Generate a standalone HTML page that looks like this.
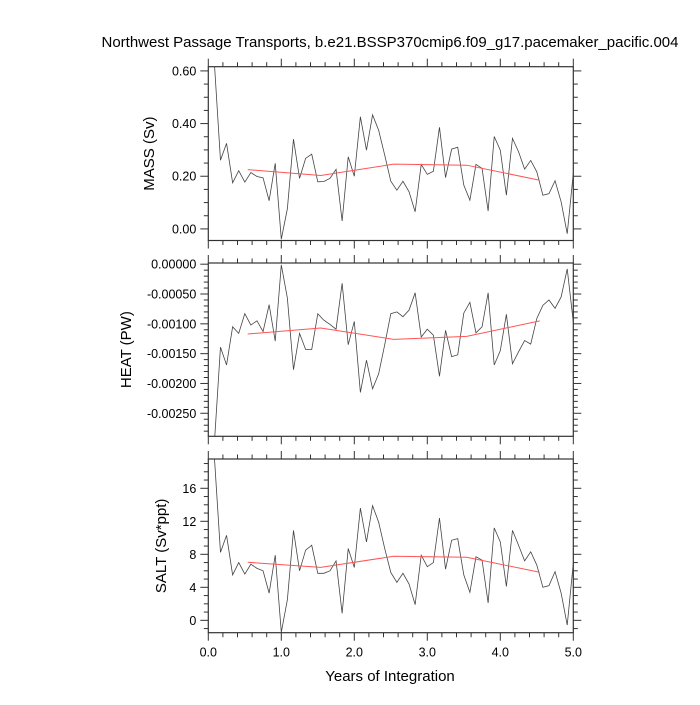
<!DOCTYPE html>
<html><head><meta charset="utf-8"><style>
body{margin:0;background:#fff}
svg text{font-family:"Liberation Sans",sans-serif;fill:#000}
</style></head><body>
<svg id="c" width="700" height="700" xmlns="http://www.w3.org/2000/svg">
<text x="390" y="47" font-size="15" text-anchor="middle">Northwest Passage Transports, b.e21.BSSP370cmip6.f09_g17.pacemaker_pacific.004</text>
<text x="390" y="681" font-size="15" text-anchor="middle">Years of Integration</text>
</svg>
<script>
const massVals=[0.63,0.261,0.325,0.175,0.221,0.178,0.214,0.199,0.194,0.107,0.249,-0.039,0.077,0.341,0.192,0.268,0.284,0.179,0.180,0.192,0.226,0.030,0.274,0.200,0.426,0.299,0.433,0.375,0.280,0.181,0.147,0.181,0.141,0.065,0.245,0.207,0.219,0.386,0.195,0.303,0.310,0.166,0.109,0.245,0.230,0.068,0.351,0.299,0.128,0.344,0.293,0.227,0.260,0.217,0.128,0.134,0.183,0.103,-0.018,0.211];
const heatVals=[-0.0030,-0.00139,-0.00169,-0.00105,-0.00116,-0.00083,-0.00102,-0.00095,-0.00113,-0.00068,-0.00129,-0.00001,-0.00057,-0.00177,-0.00116,-0.00143,-0.00143,-0.00083,-0.00094,-0.00101,-0.00109,-0.00032,-0.00135,-0.00096,-0.00215,-0.00161,-0.00209,-0.00184,-0.00135,-0.00083,-0.00080,-0.00088,-0.00077,-0.00048,-0.00122,-0.00109,-0.00119,-0.00188,-0.00111,-0.00155,-0.00152,-0.00082,-0.00064,-0.00115,-0.00105,-0.00048,-0.00169,-0.00145,-0.00084,-0.00167,-0.00147,-0.00128,-0.00134,-0.00091,-0.00069,-0.00060,-0.00074,-0.00055,-0.00008,-0.00097];
const saltVals=[19.8,8.24,10.3,5.5,7.0,5.6,6.8,6.3,6.0,3.3,7.9,-1.45,2.5,10.9,6.0,8.5,9.1,5.7,5.7,6.0,7.2,0.85,8.7,6.4,13.6,9.5,13.9,11.9,8.7,5.8,4.6,5.7,4.4,1.9,7.9,6.5,7.0,12.4,6.2,9.7,9.9,5.5,3.4,7.7,7.3,2.1,11.2,9.5,4.1,10.9,9.1,7.2,8.3,6.7,4.0,4.2,5.9,3.3,-0.57,6.9];
const meanYears=[0.54,1.54,2.54,3.54,4.54];
const massMean=[0.225,0.203,0.246,0.242,0.185];
const heatMean=[-0.00117,-0.00107,-0.00126,-0.00121,-0.00095];
const saltMean=[7.03,6.42,7.76,7.64,5.82];
const xTickLabels=["0.0","1.0","2.0","3.0","4.0","5.0"];
const massTicks=["0.00","0.20","0.40","0.60"];
const heatTicks=["0.00000","-0.00050","-0.00100","-0.00150","-0.00200","-0.00250"];
const saltTicks=["0","4","8","12","16"];

const svg=document.getElementById('c');
const NS='http://www.w3.org/2000/svg';
const X0=208.3,X1=573.3;
const xs=v=>X0+(X1-X0)*v/5;
function el(t,a,p){const e=document.createElementNS(NS,t);for(const k in a)e.setAttribute(k,a[k]);(p||svg).appendChild(e);return e;}
const panels=[
 {name:'mass',top:66.7,bot:240.5,min:-0.044,max:0.616,vals:massVals,mean:massMean,ticks:massTicks,minor:0.05,title:'MASS (Sv)',tx:154},
 {name:'heat',top:263,bot:436.3,min:-0.002886,max:0.00002,vals:heatVals,mean:heatMean,ticks:heatTicks,minor:0.0001,title:'HEAT (PW)',tx:131},
 {name:'salt',top:459,bot:632.7,min:-1.5,max:19.55,vals:saltVals,mean:saltMean,ticks:saltTicks,minor:1,title:'SALT (Sv*ppt)',tx:166}
];
panels.forEach((p,pi)=>{
 const ys=v=>p.bot-(v-p.min)/(p.max-p.min)*(p.bot-p.top);
 const g=el('g',{});
 
 
 const cp=el('clipPath',{id:'cp'+pi},g);
 el('rect',{x:X0,y:p.top,width:X1-X0,height:p.bot-p.top},cp);
 const tk=el('g',{stroke:'#333','stroke-width':1},g);
 
 
 for(let i=0;i<=25;i++){const v=i*0.2,x=xs(v),L=(i%5==0)?8:4.5;
  el('line',{x1:x,y1:p.top,x2:x,y2:p.top-L},tk);el('line',{x1:x,y1:p.bot,x2:x,y2:p.bot+L},tk);}
 const n0=Math.ceil(p.min/p.minor-1e-6),n1=Math.floor(p.max/p.minor+1e-6);
 const majStep=Math.abs(parseFloat(p.ticks[1])-parseFloat(p.ticks[0]));
 for(let n=n0;n<=n1;n++){const v=n*p.minor,y=ys(v);
  const maj=Math.abs(v/majStep-Math.round(v/majStep))<1e-6;const L=maj?8:4.5;
  el('line',{x1:X0,y1:y,x2:X0-L,y2:y},tk);el('line',{x1:X1,y1:y,x2:X1+L,y2:y},tk);}
 p.ticks.forEach(t=>{const tx=el('text',{x:X0-12,y:ys(parseFloat(t))+4.5,'font-size':12.5,'text-anchor':'end'},g);tx.textContent=t;
  
  });
 const yt=el('text',{x:0,y:0,'font-size':15,'text-anchor':'middle',transform:`translate(${p.tx},${(p.top+p.bot)/2}) rotate(-90)`},g);
 yt.textContent=p.title;
 
 
 const d=p.vals.map((v,i)=>(i?'L':'M')+xs((i+1)/12).toFixed(2)+','+ys(v).toFixed(2)).join('');
 const ln=el('path',{d:d,fill:'none',stroke:'#444','stroke-width':0.8,'clip-path':`url(#cp${pi})`},g);
 
 
 const dm=p.mean.map((v,i)=>(i?'L':'M')+xs(meanYears[i]).toFixed(2)+','+ys(v).toFixed(2)).join('');
 const rl=el('path',{d:dm,fill:'none',stroke:'#f55','stroke-width':1,'clip-path':`url(#cp${pi})`},g);
 
 
 const fr=el('rect',{x:X0,y:p.top,width:X1-X0,height:p.bot-p.top,fill:'none',stroke:'#333','stroke-width':1.2},g);
 
 
 if(pi==2){xTickLabels.forEach((t,i)=>{const tx=el('text',{x:xs(i),y:p.bot+24,'font-size':12.5,'text-anchor':'middle'},g);tx.textContent=t;
  
  });}
});
</script>
</body></html>
